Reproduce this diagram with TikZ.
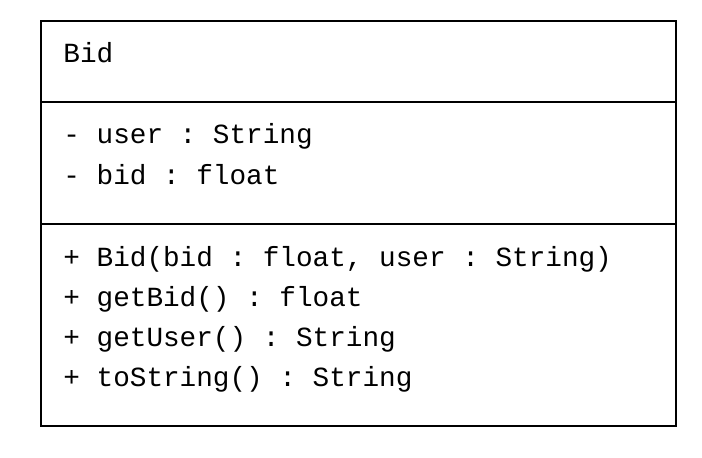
\documentclass[tikz,border=0pt]{standalone}
\usepackage{fontspec}
\setmonofont{Liberation Mono}
\begin{document}
\begin{tikzpicture}[x=0.5pt,y=0.5pt]

  \tikzset{member/.style={anchor=base west,inner sep=0pt,font=\ttfamily\fontsize{13.85}{16}\selectfont}}
  \useasboundingbox (0,0) rectangle (702,458);

  % class box
  \node (cls) [draw,line width=1pt,inner sep=0pt,minimum width=317.5pt,minimum height=202.5pt] at (358.5,234.5) {};

  % compartment lines
  \draw[line width=1pt] (cls.west |- 0,356) -- (cls.east |- 0,356);
  \draw[line width=1pt] (cls.west |- 0,234) -- (cls.east |- 0,234);

  % name
  \node (name) [member] at (63,395) {Bid};

  % attributes
  \node (user) [member] at (63,314) {- user : String};
  \node (bid) [member] at (63,273) {- bid : float};

  % operations
  \node (ctor) [member] at (63,191) {+ Bid(bid : float, user : String)};
  \node (getbid) [member] at (63,151) {+ getBid() : float};
  \node (getuser) [member] at (63,111) {+ getUser() : String};
  \node (tostr) [member] at (63,71) {+ toString() : String};

\end{tikzpicture}
\end{document}
